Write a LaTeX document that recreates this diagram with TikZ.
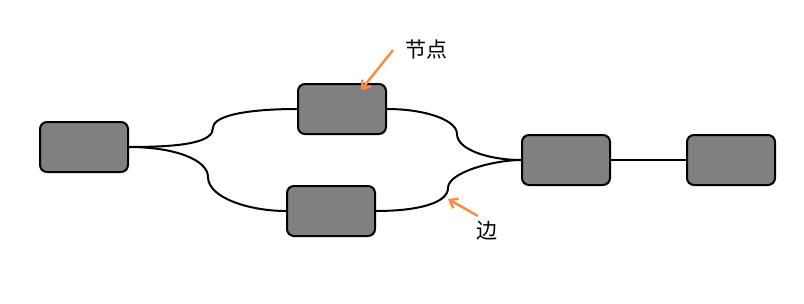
\documentclass[tikz,border=0pt]{standalone}
\usepackage{fontspec}
\newfontfamily\cjk{Noto Sans CJK SC}
\usetikzlibrary{arrows.meta}
\definecolor{boxgray}{RGB}{128,128,128}
\definecolor{pointer}{RGB}{255,140,66}
\begin{document}
\begin{tikzpicture}[x=1pt,y=-1pt,
  box/.style={draw=black,line width=2pt,fill=boxgray,rounded corners=7pt,minimum width=88pt,minimum height=50pt,inner sep=0pt},
  edge/.style={draw=black,line width=2pt},
  ptr/.style={draw=pointer,line width=2.5pt,-{Straight Barb[length=7pt,width=11pt]}},
  lbl/.style={font=\cjk\fontsize{21}{21}\selectfont,inner sep=0pt}]
\useasboundingbox (0,0) rectangle (804,303);
\node[box] (a) at (84,147) {};
\node[box] (b) at (342,109) {};
\node[box] (c) at (331,211) {};
\node[box] (d) at (566,160) {};
\node[box] (e) at (731,160) {};
\draw[edge] (a.east) .. controls (185,147) and (213,142) .. (213,128) .. controls (213,114) and (255,109) .. (b.west);
\draw[edge] (a.east) .. controls (175,147) and (208,160) .. (208,177) .. controls (208,198) and (250,211) .. (c.west);
\draw[edge] (b.east) .. controls (425,109) and (457,120) .. (457,134) .. controls (457,150) and (490,160) .. (d.west);
\draw[edge] (c.east) .. controls (418,211) and (448,203) .. (448,188) .. controls (448,172) and (495,160) .. (d.west);
\draw[edge] (d.east) -- (e.west);
\node[lbl] (n1) at (426,50) {节点};
\node[lbl] (n2) at (487,231) {边};
\coordinate (p1s) at (393,50);
\coordinate (p1e) at (361,90);
\coordinate (p2s) at (478,216);
\coordinate (p2e) at (448,199);
\draw[ptr] (p1s) -- (p1e);
\draw[ptr] (p2s) -- (p2e);
\end{tikzpicture}
\end{document}
